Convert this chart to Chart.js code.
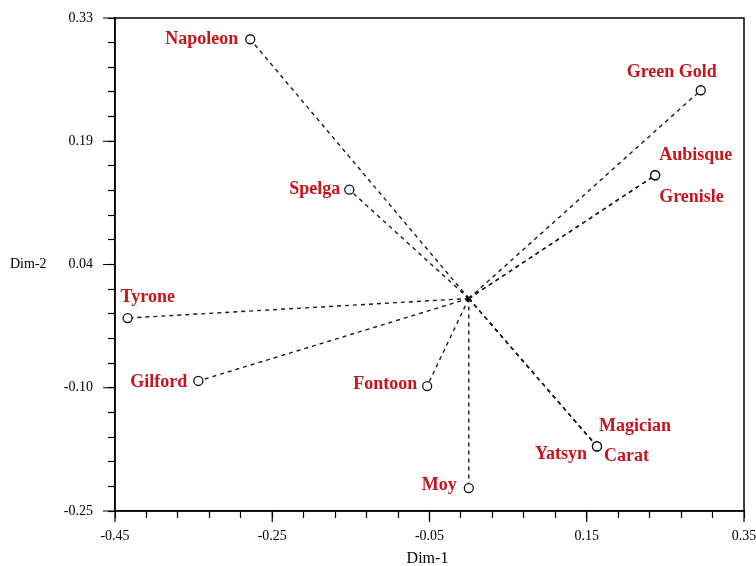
<!DOCTYPE html>
<html>
<head>
<meta charset="utf-8">
<script src="https://cdn.jsdelivr.net/npm/chart.js@4.4.1/dist/chart.umd.min.js"></script>
<style>
    html, body { margin: 0; padding: 0; background: #ffffff; }
    #wrap { width: 756px; height: 566px; }
</style>
</head>
<body>
<div id="wrap"><canvas id="biplot"></canvas></div>
<script>
// Variety scores on the two dimensions
const varieties = ['Napoleon', 'Spelga', 'Green Gold', 'Aubisque', 'Grenisle', 'Tyrone',
    'Gilford', 'Fontoon', 'Moy', 'Magician', 'Carat', 'Yatsyn'];
const dim1 = [-0.278, -0.152, 0.295, 0.237, 0.237, -0.434, -0.344, -0.053, 0.0, 0.163, 0.163, 0.163];
const dim2 = [0.305, 0.128, 0.245, 0.145, 0.145, -0.023, -0.097, -0.103, -0.223, -0.174, -0.174, -0.174];

// Origin of the spokes
const centerX = [0];
const centerY = [0];

// Axis ticks
const xTickValues = [];
const yTickValues = [];
const xTickLabels = ['-0.45', '-0.25', '-0.05', '0.15', '0.35'];
const yTickLabels = ['-0.25', '-0.10', '0.04', '0.19', '0.33'];
const xMin = -0.45, xMax = 0.35, yMin = -0.25, yMax = 0.33;
for (let i = 0; i <= 20; i++) {
    xTickValues.push(xMin + (xMax - xMin) * i / 20);
    yTickValues.push(yMin + (yMax - yMin) * i / 20);
}

// label placement relative to its point: [dx, dy, align]
const labelPlace = [
    [-12, 0, 'right'], [-9, 0, 'right'], [-29, -18, 'center'], [4, -20, 'left'],
    [4, 22, 'left'], [-7, -21, 'left'], [-11, 1, 'right'], [-10, -2, 'right'],
    [-12, -3, 'right'], [2, -20, 'left'], [7, 10, 'left'], [-10, 8, 'right']
];

const RED = '#c8141c';
const SERIF = "'Liberation Serif', 'Times New Roman', serif";

// one dashed spoke per variety, from the centre out
const spokeSets = varieties.map((name, i) => ({
    label: name,
    data: [{ x: centerX[0], y: centerY[0] }, { x: dim1[i], y: dim2[i] }],
    showLine: true,
    borderColor: '#1a1a1a',
    borderWidth: 1.4,
    borderDash: [4, 4],
    pointRadius: 0,
    order: 3
}));

const pointSet = {
    label: 'varieties',
    data: varieties.map((n, i) => ({ x: dim1[i], y: dim2[i] })),
    pointRadius: 4.5,
    pointBackgroundColor: '#ffffff',
    pointBorderColor: '#111111',
    pointBorderWidth: 1.3,
    order: 1
};

const centerSet = {
    label: 'centre',
    data: [{ x: centerX[0], y: centerY[0] }],
    pointStyle: 'crossRot',
    pointRadius: 3.5,
    pointBorderColor: '#000000',
    pointBorderWidth: 2.2,
    order: 0
};

// box, longer major ticks, variety names and the axis titles
const decorations = {
    id: 'decorations',
    afterDraw(chart) {
        const ctx = chart.ctx;
        const a = chart.chartArea;
        const xs = chart.scales.x, ys = chart.scales.y;
        ctx.save();
        ctx.strokeStyle = '#000000';
        ctx.lineWidth = 1.5;
        ctx.strokeRect(a.left, a.top, a.right - a.left, a.bottom - a.top);

        ctx.lineWidth = 1.2;
        ctx.beginPath();
        xTickValues.forEach((v, i) => {
            if (i % 5 !== 0) return;
            const px = xs.getPixelForValue(v);
            ctx.moveTo(px, a.bottom);
            ctx.lineTo(px, a.bottom + 11);
        });
        yTickValues.forEach((v, i) => {
            if (i % 5 !== 0) return;
            const py = ys.getPixelForValue(v);
            ctx.moveTo(a.left, py);
            ctx.lineTo(a.left - 12, py);
        });
        ctx.stroke();

        ctx.font = 'bold 18px ' + SERIF;
        ctx.fillStyle = RED;
        ctx.textBaseline = 'middle';
        varieties.forEach((name, i) => {
            const p = labelPlace[i];
            ctx.textAlign = p[2];
            ctx.fillText(name, xs.getPixelForValue(dim1[i]) + p[0], ys.getPixelForValue(dim2[i]) + p[1]);
        });

        ctx.fillStyle = '#000000';
        ctx.font = '14px ' + SERIF;
        ctx.textAlign = 'left';
        ctx.fillText('Dim-2', 10, (a.top + a.bottom) / 2);
        ctx.font = '16px ' + SERIF;
        ctx.textAlign = 'center';
        ctx.fillText('Dim-1', (a.left + a.right) / 2 - 2, a.bottom + 48);
        ctx.restore();
    }
};

new Chart(document.getElementById('biplot'), {
    type: 'scatter',
    data: { datasets: [...spokeSets, pointSet, centerSet] },
    options: {
        responsive: true,
        maintainAspectRatio: false,
        animation: false,
        layout: { padding: { left: 0, right: 12, top: 18, bottom: 0 } },
        plugins: {
            legend: { display: false },
            tooltip: { enabled: false }
        },
        scales: {
            x: {
                type: 'linear',
                min: xMin,
                max: xMax,
                afterBuildTicks: s => { s.ticks = xTickValues.map(v => ({ value: v })); },
                afterFit: s => { s.height = 55; s.paddingLeft = 0; s.paddingRight = 0; },
                border: { color: '#000000', width: 1.5 },
                grid: { drawOnChartArea: false, drawTicks: true, tickLength: 7, tickColor: '#000000', tickWidth: 1.2 },
                ticks: {
                    autoSkip: false,
                    maxRotation: 0,
                    padding: 10,
                    color: '#000000',
                    font: { family: SERIF, size: 14 },
                    callback: (v, i) => (i % 5 === 0 ? xTickLabels[i / 5] : '')
                }
            },
            y: {
                type: 'linear',
                min: yMin,
                max: yMax,
                afterBuildTicks: s => { s.ticks = yTickValues.map(v => ({ value: v })); },
                afterFit: s => { s.width = 115; s.paddingTop = 0; s.paddingBottom = 0; },
                border: { color: '#000000', width: 1.5 },
                grid: { drawOnChartArea: false, drawTicks: true, tickLength: 7, tickColor: '#000000', tickWidth: 1.2 },
                ticks: {
                    autoSkip: false,
                    padding: 15,
                    color: '#000000',
                    font: { family: SERIF, size: 14 },
                    callback: (v, i) => (i % 5 === 0 ? yTickLabels[i / 5] : '')
                }
            }
        }
    },
    plugins: [decorations]
});
</script>
</body>
</html>
